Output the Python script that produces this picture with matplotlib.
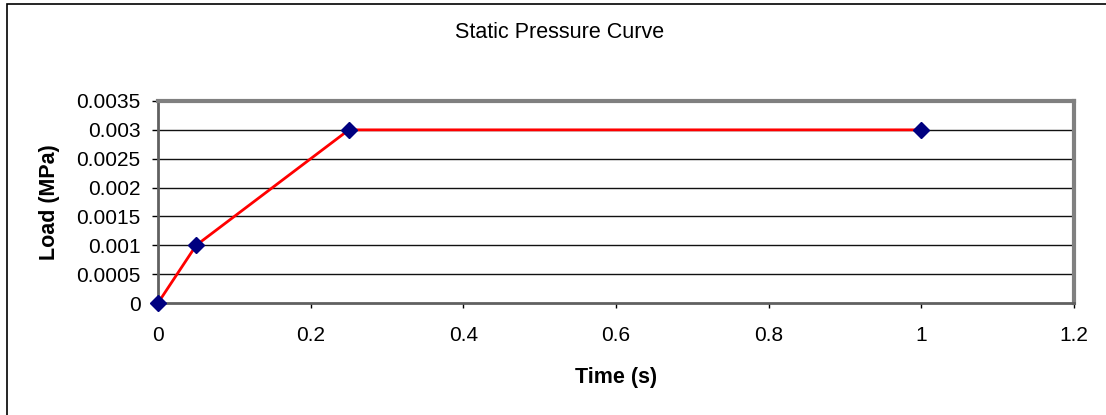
import matplotlib
matplotlib.use("Agg")
import matplotlib.pyplot as plt
from matplotlib.patches import Rectangle

time_s = [0, 0.05, 0.25, 1.0]
load_mpa = [0, 0.001, 0.003, 0.003]
x_ticks = [0, 0.2, 0.4, 0.6, 0.8, 1.0, 1.2]
x_labels = ["0", "0.2", "0.4", "0.6", "0.8", "1", "1.2"]
y_ticks = [0, 0.0005, 0.001, 0.0015, 0.002, 0.0025, 0.003, 0.0035]
y_labels = ["0", "0.0005", "0.001", "0.0015", "0.002", "0.0025", "0.003", "0.0035"]

plt.rcParams['font.family'] = ['Liberation Sans', 'DejaVu Sans']

W, H = 1106, 415
fig = plt.figure(figsize=(W / 100, H / 100), dpi=100)
fig.patch.set_facecolor('white')

# outer chart border
fig.add_artist(Rectangle((7 / W, -0.01), 1.2, 1 - 4 / H + 0.01, transform=fig.transFigure,
                         fill=False, edgecolor='black', linewidth=1.2))

left, right, top, bottom = 158, 1074, 101, 303
ax = fig.add_axes([left / W, 1 - bottom / H, (right - left) / W, (bottom - top) / H])
ax.set_xlim(0, 1.2)
ax.set_ylim(0, 0.0035)

for y in y_ticks[1:-1]:
    ax.axhline(y, color='#111111', linewidth=1.0, zorder=1)

ax.plot(time_s, load_mpa, color='#ff0000', linewidth=2, zorder=3, clip_on=False)
ax.plot(time_s, load_mpa, linestyle='none', marker='D', markersize=8.5,
        markerfacecolor='#000080', markeredgecolor='#000080', zorder=4, clip_on=False)

for side in ['top', 'right']:
    ax.spines[side].set_color('#808080')
    ax.spines[side].set_linewidth(3)
for side in ['left', 'bottom']:
    ax.spines[side].set_color('#606060')
    ax.spines[side].set_linewidth(2)

ax.set_xticks(x_ticks)
ax.set_xticklabels(x_labels, fontsize=15)
ax.set_yticks(y_ticks)
ax.set_yticklabels(y_labels, fontsize=15)
ax.tick_params(axis='x', direction='out', length=3.5, width=1, color='black', pad=13)
ax.tick_params(axis='y', direction='out', length=4.5, width=1, color='black', pad=8)

ax.set_xlabel("Time (s)", fontsize=15.5, fontweight='bold', labelpad=16)
ax.set_ylabel("Load (MPa)", fontsize=15.5, fontweight='bold', labelpad=12)
fig.text(560 / W, 1 - 32 / H, "Static Pressure Curve", ha='center', va='center', fontsize=15.5)

fig.savefig("out.png", dpi=100, facecolor='white')
